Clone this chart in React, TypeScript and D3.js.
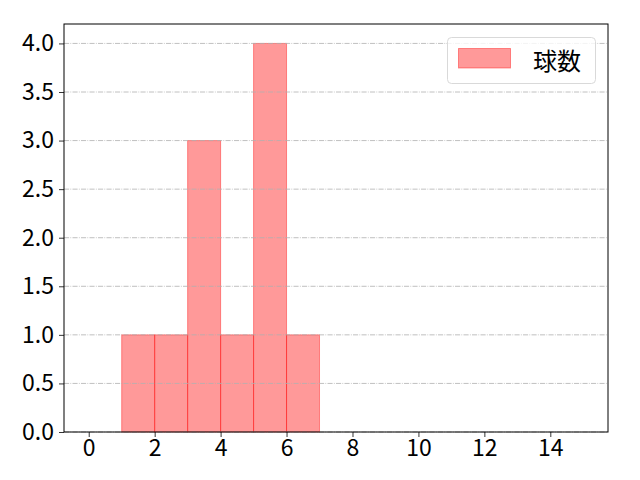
import React, { useEffect, useRef } from 'react';
import * as d3 from 'd3';

// histogram bins (left edge, right edge) and counts
const binStarts = [1, 2, 3, 4, 5, 6];
const binEnds = [2, 3, 4, 5, 6, 7];
const counts = [1, 1, 3, 1, 4, 1];
const xTicks = [0, 2, 4, 6, 8, 10, 12, 14];
const yTicks = [0, 0.5, 1.0, 1.5, 2.0, 2.5, 3.0, 3.5, 4.0];
const legendLabel = '球数';

const width = 640;
const height = 480;
const margin = { left: 64, right: 32, top: 24, bottom: 48 };
const font = '"Noto Sans CJK JP", "DejaVu Sans", sans-serif';

const App: React.FC = () => {
  const svgRef = useRef<SVGSVGElement>(null);

  useEffect(() => {
    if (!svgRef.current) return;
    const svg = d3.select(svgRef.current);
    svg.selectAll('*').remove();

    const x = d3.scaleLinear().domain([-0.75, 15.75]).range([margin.left, width - margin.right]);
    const y = d3.scaleLinear().domain([0, 4.2]).range([height - margin.bottom, margin.top]);

    svg.append('rect').attr('width', width).attr('height', height).attr('fill', '#ffffff');

    const bins = binStarts.map((s, i) => ({ x0: s, x1: binEnds[i], n: counts[i] }));

    svg.append('g')
      .selectAll('rect')
      .data(bins)
      .enter()
      .append('rect')
      .attr('x', d => x(d.x0))
      .attr('y', d => y(d.n))
      .attr('width', d => x(d.x1) - x(d.x0))
      .attr('height', d => y(0) - y(d.n))
      .attr('fill', 'rgba(255,0,0,0.4)')
      .attr('stroke', 'rgba(255,0,0,0.4)')
      .attr('stroke-width', 1);

    // horizontal grid, drawn above the bars
    svg.append('g')
      .selectAll('line')
      .data(yTicks)
      .enter()
      .append('line')
      .attr('x1', margin.left)
      .attr('x2', width - margin.right)
      .attr('y1', d => y(d))
      .attr('y2', d => y(d))
      .attr('stroke', '#b0b0b0')
      .attr('stroke-width', 0.8)
      .attr('stroke-dasharray', '5.1,1.3,0.8,1.3');

    const xAxis = svg.append('g')
      .attr('transform', `translate(0,${height - margin.bottom})`)
      .call(d3.axisBottom(x).tickValues(xTicks).tickFormat(d3.format('d')).tickSize(5).tickPadding(3));
    const yAxis = svg.append('g')
      .attr('transform', `translate(${margin.left},0)`)
      .call(d3.axisLeft(y).tickValues(yTicks).tickFormat(d3.format('.1f')).tickSize(5).tickPadding(5));

    [xAxis, yAxis].forEach(a => {
      a.select('.domain').remove();
      a.selectAll('line').attr('stroke', '#000').attr('stroke-width', 0.8);
      a.selectAll('text').attr('font-family', font).attr('font-size', 23).attr('fill', '#000');
    });

    svg.append('rect')
      .attr('x', margin.left)
      .attr('y', margin.top)
      .attr('width', width - margin.left - margin.right)
      .attr('height', height - margin.top - margin.bottom)
      .attr('fill', 'none')
      .attr('stroke', '#000')
      .attr('stroke-width', 1);

    // legend
    const lg = svg.append('g');
    lg.append('rect')
      .attr('x', 447.5).attr('y', 37.5).attr('width', 148).attr('height', 46)
      .attr('rx', 4)
      .attr('fill', 'rgba(255,255,255,0.8)')
      .attr('stroke', '#d9d9d9')
      .attr('stroke-width', 1);
    lg.append('rect')
      .attr('x', 458.5).attr('y', 48.5).attr('width', 52).attr('height', 19.5)
      .attr('fill', 'rgba(255,0,0,0.4)')
      .attr('stroke', 'rgba(255,0,0,0.4)')
      .attr('stroke-width', 1);
    lg.append('text')
      .attr('x', 533).attr('y', 59)
      .attr('dominant-baseline', 'central')
      .attr('font-family', font)
      .attr('font-size', 24)
      .attr('fill', '#000')
      .text(legendLabel);
  }, []);

  return <svg ref={svgRef} width={width} height={height} style={{ display: 'block', margin: -8 }} />;
};

export default App;
